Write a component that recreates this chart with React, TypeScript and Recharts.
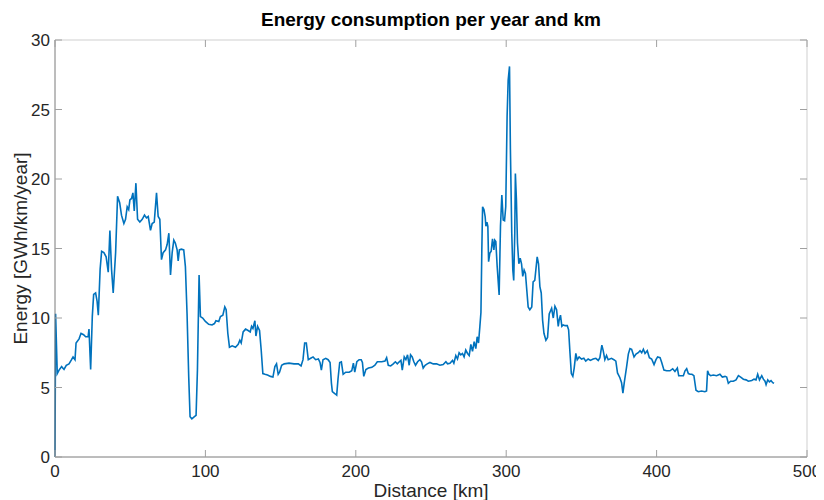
import React from "react";
import { Line, LineChart, XAxis, YAxis } from "recharts";

// distance along the line (km) and energy (GWh/km/year)
const distanceKm = [
  0, 0.4, 1.5, 2.7, 4.4, 6, 7.5, 9.3, 11, 12, 13.3, 14, 16, 17.3, 19, 20.4, 22, 22.6, 23.7, 24.8,
  25.7, 27, 28, 28.8, 30, 31, 32.5, 34, 35.4, 36.5, 37.6, 38.7, 40.3, 41.6, 43, 44.2, 45.8, 46.9, 48, 49,
  49.8, 50.9, 51.8, 52.7, 53.8, 54.9, 56.4, 58, 59.5, 60.8, 62, 63.5, 64.6, 66, 67.5, 68.6, 69.7, 70.8, 71.9, 73.5,
  74.6, 75.7, 76.8, 77.9, 79, 80, 81.2, 81.9, 82.7, 84, 85.6, 86.7, 87.8, 88.9, 89.8, 91, 92.7, 93.8, 94.7, 95.8,
  96.7, 98.2, 100, 102.2, 104.4, 106, 107, 108.9, 110, 111.6, 112.9, 113.8, 114.9, 116, 117.8, 120, 121.8, 122.9, 123.8, 125.1,
  126.7, 128.4, 129.8, 130.7, 131.6, 132.9, 133.6, 134.7, 136, 137.1, 138.2, 139.6, 141.3, 143.3, 144.9, 146.2, 147.3, 148.4, 149.3, 150.7,
  152.4, 155.6, 158.9, 161.8, 163.6, 164.9, 166, 167.1, 168.4, 170, 171.6, 173.3, 175.1, 176.2, 177.1, 178.2, 180, 181.6, 182.9, 183.8,
  184.4, 186.2, 187.3, 188.2, 189.3, 190.4, 191.6, 193.3, 195.6, 197.3, 198.4, 199.3, 200.7, 202.2, 203.6, 204.4, 205.3, 206.7, 208.4, 210.7,
  212.7, 214.3, 217.2, 219.4, 220.5, 221.6, 223.2, 224.9, 226.3, 227.6, 228.9, 230, 230.9, 232.2, 233.3, 234.4, 235.5, 236.4, 237.5, 238.6,
  239.7, 241.1, 242.6, 243.7, 244.8, 246.1, 247.5, 249.3, 251.5, 253.7, 255.9, 258.1, 259.9, 261, 262.6, 264.3, 265.2, 266.5, 267.6, 268.7,
  269.8, 270.9, 272, 273.1, 274.3, 275.4, 276.5, 277.6, 278.7, 279.8, 280.7, 281.6, 282.5, 283.2, 283.8, 284.3, 285.2, 286, 286.5, 287.2,
  287.8, 288.3, 289.1, 290, 290.9, 291.8, 292.4, 293.1, 294, 295.3, 296.2, 297.1, 298, 298.9, 299.7, 300.6, 301.3, 302.2, 302.8, 303.7,
  304.4, 305, 305.7, 306.1, 306.8, 307.5, 308.4, 309.3, 310.2, 311, 311.9, 312.8, 313.7, 314.6, 315.7, 317, 317.9, 319, 319.7, 320.6,
  321.5, 322.4, 323.3, 324.2, 325.1, 326.4, 327.5, 328.6, 330.2, 331.3, 332.4, 333.5, 334.6, 335.2, 336.1, 337, 337.9, 339.2, 340.6, 341.5,
  342.4, 343.3, 344.3, 345.2, 346.3, 347.2, 348.5, 350.1, 351.6, 352.9, 354.5, 356, 357.8, 359.6, 361.2, 362.3, 363.6, 364.5, 365.6, 366.7,
  367.8, 370, 371.6, 372.9, 374, 375.6, 376.7, 377.6, 378.5, 380, 381.2, 382.3, 383.4, 385, 386.3, 387.8, 389, 390.1, 391.2, 392.3,
  393.8, 395.2, 396.7, 398.3, 399.6, 400.7, 402.3, 403.4, 404.9, 406.7, 408.9, 410.7, 412.2, 413.8, 414.7, 416, 417.8, 418.9, 420, 421.1,
  422.2, 423.5, 424.8, 426.2, 427.7, 429.9, 432.1, 433.2, 433.9, 434.8, 435.9, 437.7, 439.9, 442.1, 443.7, 445.5, 446.6, 447.7, 449.2, 451,
  452.8, 454.4, 455.9, 457.7, 459.5, 461, 463.3, 464.8, 466.1, 467.2, 468.4, 469.9, 471, 472.1, 472.8, 473.9, 475, 476.1, 477.2, 478.1,
];

const energy = [
  0, 10.3, 6.0, 6.25, 6.5, 6.3, 6.6, 6.7, 7.0, 7.2, 7.0, 8.2, 8.5, 8.9, 8.8, 8.65, 8.65, 9.2, 6.3, 10.1,
  11.7, 11.8, 11.2, 10.2, 13.5, 14.8, 14.7, 14.4, 13.3, 16.3, 13.5, 11.8, 14.7, 18.75, 18.3, 17.4, 16.8, 17.1, 18.0, 17.8,
  18.5, 18.6, 19.0, 17.7, 19.7, 17.1, 16.9, 17.1, 17.4, 17.2, 17.3, 16.3, 16.8, 16.9, 19.0, 17.3, 17.1, 14.2, 14.7, 14.9,
  15.3, 16.1, 13.1, 14.7, 15.6, 15.4, 14.9, 14.1, 14.9, 14.95, 14.9, 13.7, 10.3, 5.8, 2.9, 2.75, 2.9, 3.0, 6.25, 13.1,
  10.1, 10.0, 9.75, 9.55, 9.5, 9.6, 9.8, 9.75, 10.1, 10.2, 10.8, 10.6, 8.9, 7.9, 8.0, 7.9, 8.1, 8.4, 8.2, 9.0,
  9.2, 9.1, 9.0, 9.4, 9.25, 9.8, 8.7, 9.4, 9.1, 7.7, 6.0, 5.95, 5.9, 5.8, 5.75, 6.5, 6.7, 5.95, 6.1, 6.6,
  6.7, 6.75, 6.7, 6.7, 6.55, 7.0, 8.2, 8.2, 7.0, 7.1, 7.2, 7.0, 7.05, 6.8, 6.25, 7.0, 7.1, 7.0, 6.8, 5.3,
  4.7, 4.55, 4.45, 5.65, 6.8, 6.85, 5.95, 6.1, 6.1, 6.2, 6.75, 6.1, 6.85, 7.0, 7.0, 6.8, 5.8, 6.3, 6.4, 6.45,
  6.6, 6.85, 6.85, 6.9, 7.15, 6.6, 6.55, 6.7, 6.85, 6.7, 6.85, 6.95, 6.25, 7.2, 7.0, 7.35, 6.6, 7.35, 7.2, 6.85,
  6.6, 6.85, 7.0, 6.85, 6.4, 6.6, 6.7, 6.8, 6.7, 6.7, 6.6, 6.65, 6.85, 6.7, 6.75, 6.95, 6.75, 7.3, 7.05, 7.5,
  7.35, 7.45, 7.2, 7.7, 7.45, 7.3, 8.1, 7.6, 8.3, 7.8, 8.65, 8.2, 9.4, 10.4, 14.9, 18.0, 17.8, 17.3, 16.6, 16.9,
  16.6, 14.05, 14.65, 14.8, 15.7, 14.9, 15.6, 15.5, 13.7, 11.65, 16.6, 18.85, 17.05, 17.0, 18.0, 24.5, 27.1, 28.1, 22.1, 16.1,
  13.45, 12.7, 16.1, 20.4, 18.5, 15.4, 13.9, 14.3, 13.9, 13.0, 13.45, 13.2, 12.0, 10.8, 10.6, 10.8, 12.6, 12.7, 13.45, 14.4,
  13.9, 12.25, 11.8, 9.85, 8.9, 8.4, 8.6, 10.3, 10.7, 10.0, 10.85, 10.6, 9.4, 9.85, 10.2, 9.4, 9.5, 9.45, 9.45, 9.15,
  7.5, 6.0, 5.8, 6.4, 7.45, 7.0, 7.2, 7.05, 7.1, 6.9, 7.05, 6.95, 7.05, 7.1, 6.95, 7.15, 8.05, 7.65, 7.0, 7.3,
  7.0, 7.1, 7.0, 6.9, 6.05, 5.7, 5.35, 4.6, 5.35, 6.45, 7.4, 7.8, 7.75, 7.2, 7.4, 7.5, 7.65, 7.5, 7.75, 7.45,
  7.65, 7.15, 7.05, 6.65, 7.0, 7.2, 7.15, 6.8, 6.25, 6.2, 6.2, 6.35, 6.15, 6.4, 5.85, 5.85, 5.85, 6.2, 6.35, 6.0,
  5.95, 5.95, 5.85, 4.8, 4.7, 4.75, 4.7, 4.75, 6.2, 5.95, 5.85, 5.9, 5.85, 5.95, 5.75, 5.8, 5.75, 5.3, 5.45, 5.45,
  5.55, 5.85, 5.75, 5.6, 5.55, 5.45, 5.5, 5.6, 5.55, 5.95, 5.55, 5.85, 5.6, 5.45, 5.2, 5.55, 5.4, 5.5, 5.35, 5.3,
];

const xTicks = [0, 100, 200, 300, 400, 500];
const yTicks = [0, 5, 10, 15, 20, 25, 30];

const data = distanceKm.map((km, i) => ({ km, energy: energy[i] }));

const FONT = "'Liberation Sans', Arial, Helvetica, sans-serif";
const AXIS = "#7a7a7a";
const FRAME = "#cfcfcf";
const TICK = "#a0a0a0";
const TEXT = "#262626";
const TICK_LEN = 7;

function BottomTick({ x, y, payload }: any) {
  return (
    <g>
      <line x1={x} x2={x} y1={y} y2={y - TICK_LEN} stroke={TICK} />
      <text x={x} y={y + 20} textAnchor="middle" fill={TEXT} fontSize={17} fontFamily={FONT}>
        {payload.value}
      </text>
    </g>
  );
}

function LeftTick({ x, y, payload }: any) {
  return (
    <g>
      <line x1={x} x2={x + TICK_LEN} y1={y} y2={y} stroke={TICK} />
      <text x={x - 5} y={y + 6} textAnchor="end" fill={TEXT} fontSize={17} fontFamily={FONT}>
        {payload.value}
      </text>
    </g>
  );
}

function TopTick({ x, y }: any) {
  return <line x1={x} x2={x} y1={y} y2={y + TICK_LEN} stroke={TICK} />;
}

function RightTick({ x, y }: any) {
  return <line x1={x} x2={x - TICK_LEN} y1={y} y2={y} stroke={TICK} />;
}

export default function App() {
  return (
    <div style={{ position: "relative", width: 816, height: 492, fontFamily: FONT }}>
      <div
        style={{
          position: "absolute",
          left: 47,
          width: 752,
          top: 1,
          textAlign: "center",
          fontSize: 19,
          fontWeight: "bold",
          color: "#000",
        }}
      >
        Energy consumption per year and km
      </div>
      <LineChart width={816} height={492} data={data} margin={{ top: 31, right: 16, bottom: 5, left: 0 }}>
        <XAxis
          xAxisId="top"
          orientation="top"
          dataKey="km"
          type="number"
          domain={[0, 500]}
          ticks={xTicks}
          tickSize={0}
          tickMargin={0}
          tick={<TopTick />}
          height={1}
          axisLine={{ stroke: FRAME }}
        />
        <YAxis
          yAxisId="right"
          orientation="right"
          type="number"
          domain={[0, 30]}
          ticks={yTicks}
          tickSize={0}
          tickMargin={0}
          tick={<RightTick />}
          width={1}
          axisLine={{ stroke: FRAME }}
        />
        <XAxis
          dataKey="km"
          type="number"
          domain={[0, 500]}
          ticks={xTicks}
          tickSize={0}
          tickMargin={0}
          tick={<BottomTick />}
          height={38}
          axisLine={{ stroke: AXIS }}
          label={{ value: "Distance [km]", position: "insideBottom", offset: -2, fill: TEXT, fontSize: 19, fontFamily: FONT }}
        />
        <YAxis
          type="number"
          domain={[0, 30]}
          ticks={yTicks}
          tickSize={0}
          tickMargin={0}
          tick={<LeftTick />}
          width={47}
          axisLine={{ stroke: AXIS }}
          label={{
            value: "Energy [GWh/km/year]",
            angle: -90,
            position: "insideLeft",
            offset: 12,
            fill: TEXT,
            fontSize: 19,
            fontFamily: FONT,
            style: { textAnchor: "middle" },
          }}
        />
        <Line
          xAxisId="top"
          yAxisId="right"
          type="linear"
          dataKey="energy"
          stroke="none"
          dot={false}
          activeDot={false}
          legendType="none"
          isAnimationActive={false}
        />
        <Line
          type="linear"
          dataKey="energy"
          stroke="#0072BD"
          strokeWidth={1.6}
          dot={false}
          activeDot={false}
          isAnimationActive={false}
        />
      </LineChart>
    </div>
  );
}
